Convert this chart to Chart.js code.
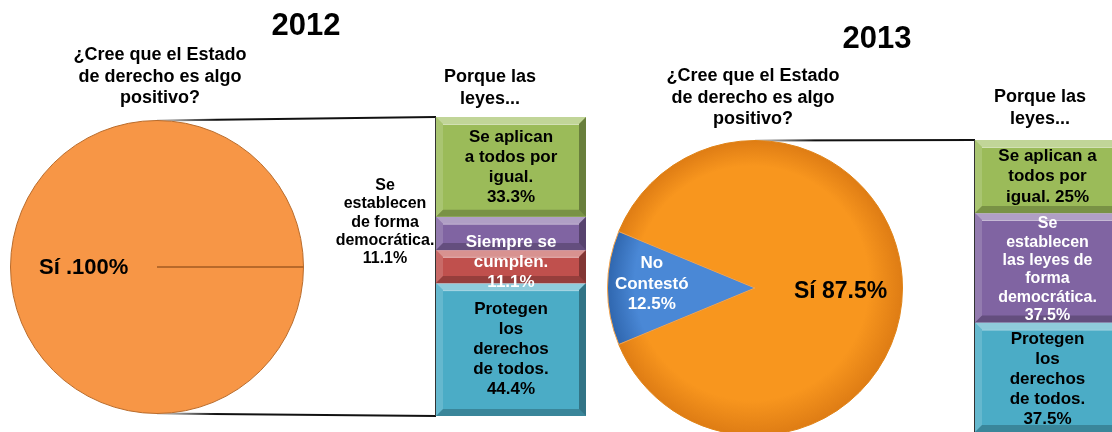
<!DOCTYPE html>
<html><head><meta charset="utf-8">
<script src="https://cdn.jsdelivr.net/npm/chart.js@4/dist/chart.umd.min.js"></script>
<style>
html,body{margin:0;padding:0;background:#fff;}
#wrap{position:relative;width:1112px;height:432px;overflow:hidden;background:#fff;font-family:"Liberation Sans",Arial,sans-serif;}
canvas{position:absolute;}
.t{position:absolute;text-align:center;font-weight:bold;color:#000;white-space:nowrap;}
.yr{font-size:31px;line-height:34px;}
.q{font-size:18px;line-height:21.5px;}
</style></head>
<body>
<div id="wrap">
  <canvas id="overlay" width="1112" height="432" style="left:0;top:0;"></canvas>
  <canvas id="pie12" width="294" height="294" style="left:10px;top:120px;"></canvas>
  <canvas id="bar12" width="266" height="299" style="left:320px;top:117px;"></canvas>
  <canvas id="pie13" width="296" height="296" style="left:607px;top:140px;"></canvas>
  <canvas id="bar13" width="145" height="292" style="left:975px;top:140px;"></canvas>

  <div class="t yr" style="left:226px;top:8px;width:160px;">2012</div>
  <div class="t q" style="left:50px;top:44px;width:220px;">¿Cree que el Estado<br>de derecho es algo<br>positivo?</div>
  <div class="t q" style="left:410px;top:66px;width:160px;">Porque las<br>leyes...</div>

  <div class="t yr" style="left:797px;top:21px;width:160px;">2013</div>
  <div class="t q" style="left:643px;top:65px;width:220px;">¿Cree que el Estado<br>de derecho es algo<br>positivo?</div>
  <div class="t q" style="left:960px;top:86px;width:160px;">Porque las<br>leyes...</div>
</div>
<script>
// ---------- DATA ----------
const pie2012Labels = ['Sí'];
const pie2012Values = [100];
const bar2012Categories = ['Se aplican a todos por igual.', 'Se establecen de forma democrática.', 'Siempre se cumplen.', 'Protegen los derechos de todos.'];
const bar2012Values = [33.3, 11.1, 11.1, 44.4];

const pie2013Labels = ['Sí', 'No Contestó'];
const pie2013Values = [87.5, 12.5];
const bar2013Categories = ['Se aplican a todos por igual.', 'Se establecen las leyes de forma democrática.', 'Protegen los derechos de todos.'];
const bar2013Values = [25, 37.5, 37.5];

// ---------- LABEL TEMPLATES (line breaks as in the slide) ----------
const pie2012LabelLines = [['Sí .{v}%']];
const bar2012LabelLines = [
  ['Se aplican', 'a todos por', 'igual.', '{v}%'],
  ['Se', 'establecen', 'de forma', 'democrática.', '{v}%'],
  ['Siempre se', 'cumplen.', '{v}%'],
  ['Protegen', 'los', 'derechos', 'de todos.', '{v}%']
];
const pie2013LabelLines = [['Sí {v}%'], ['No', 'Contestó', '{v}%']];
const bar2013LabelLines = [
  ['Se aplican a', 'todos por', 'igual. {v}%'],
  ['Se', 'establecen', 'las leyes de', 'forma', 'democrática.', '{v}%'],
  ['Protegen', 'los', 'derechos', 'de todos.', '{v}%']
];

// ---------- STYLE ----------
const FONT = '"Liberation Sans", Arial, sans-serif';
const C_GREEN = '#9bbb59', C_PURPLE = '#8064a2', C_RED = '#c0504d', C_CYAN = '#4bacc6';

function fill(tpl, v){ return tpl.map(s => s.replace('{v}', String(v))); }

function drawLines(ctx, lines, cx, cy, size, lh, color){
  ctx.save();
  ctx.font = 'bold ' + size + 'px ' + FONT;
  ctx.fillStyle = color;
  ctx.textAlign = 'center';
  ctx.textBaseline = 'middle';
  const y0 = cy - (lines.length - 1) * lh / 2;
  lines.forEach((l, i) => ctx.fillText(l, cx, y0 + i * lh));
  ctx.restore();
}

// pie labels + optional radial line for single full slice
const pieDecor = {
  id: 'pieDecor',
  afterDatasetsDraw(chart, args, o){
    const ctx = chart.ctx;
    const meta = chart.getDatasetMeta(0);
    const vals = chart.data.datasets[0].data;
    meta.data.forEach((el, i) => {
      const p = el.getProps(['x','y','startAngle','endAngle','outerRadius'], true);
      if (o.radialLine && i === 0){
        ctx.save();
        ctx.strokeStyle = o.radialLine; ctx.lineWidth = 2;
        ctx.beginPath(); ctx.moveTo(p.x, p.y);
        ctx.lineTo(p.x + p.outerRadius * Math.cos(p.startAngle), p.y + p.outerRadius * Math.sin(p.startAngle));
        ctx.stroke(); ctx.restore();
      }
      const mid = (p.startAngle + p.endAngle) / 2;
      const rr = p.outerRadius * o.labelRadius[i];
      const lx = p.x + rr * Math.cos(mid), ly = p.y + rr * Math.sin(mid) + (o.dy ? o.dy[i] : 0);
      drawLines(ctx, fill(o.lines[i], vals[i]), lx, ly, o.size[i], o.lh, o.colors[i]);
    });
  }
};

// bar bevel + labels
const barDecor = {
  id: 'barDecor',
  afterDatasetsDraw(chart, args, o){
    const ctx = chart.ctx;
    chart.data.datasets.forEach((ds, i) => {
      const el = chart.getDatasetMeta(i).data[0];
      const p = el.getProps(['x','y','base','width'], true);
      const L = p.x - p.width/2, R = p.x + p.width/2;
      const T = Math.min(p.y, p.base), B = Math.max(p.y, p.base);
      const b = Math.min(7, (B - T) / 3);
      ctx.save();
      ctx.fillStyle = 'rgba(255,255,255,0.38)';
      ctx.beginPath(); ctx.moveTo(L, T); ctx.lineTo(R, T); ctx.lineTo(R - b, T + b); ctx.lineTo(L + b, T + b); ctx.closePath(); ctx.fill();
      ctx.fillStyle = 'rgba(255,255,255,0.15)';
      ctx.beginPath(); ctx.moveTo(L, T); ctx.lineTo(L + b, T + b); ctx.lineTo(L + b, B - b); ctx.lineTo(L, B); ctx.closePath(); ctx.fill();
      ctx.fillStyle = 'rgba(0,0,0,0.32)';
      ctx.beginPath(); ctx.moveTo(R, T); ctx.lineTo(R, B); ctx.lineTo(R - b, B - b); ctx.lineTo(R - b, T + b); ctx.closePath(); ctx.fill();
      ctx.fillStyle = 'rgba(0,0,0,0.22)';
      ctx.beginPath(); ctx.moveTo(L, B); ctx.lineTo(R, B); ctx.lineTo(R - b, B - b); ctx.lineTo(L + b, B - b); ctx.closePath(); ctx.fill();
      ctx.strokeStyle = 'rgba(255,255,255,0.55)'; ctx.lineWidth = 1;
      ctx.beginPath(); ctx.moveTo(L + b, T + b + 0.5); ctx.lineTo(R - b, T + b + 0.5); ctx.stroke();
      ctx.restore();
    });
    chart.data.datasets.forEach((ds, i) => {
      const el = chart.getDatasetMeta(i).data[0];
      const p = el.getProps(['x','y','base','width'], true);
      const cy = (p.y + p.base) / 2 + (o.dy ? o.dy[i] : 0);
      let cx = p.x + (o.dx ? o.dx[i] : 0);
      if (o.outside && o.outside[i]) cx = p.x - p.width/2 - o.outside[i];
      drawLines(ctx, fill(o.lines[i], ds.data[0]), cx, cy, o.size[i], o.lh[i], o.colors[i]);
    });
  }
};

const commonOpts = {
  animation: false, responsive: false, events: [],
  plugins: { legend: { display: false }, tooltip: { enabled: false } }
};

// ---------- 2012 PIE ----------
const pie12 = new Chart(document.getElementById('pie12'), {
  type: 'pie',
  data: { labels: pie2012Labels, datasets: [{ data: pie2012Values, backgroundColor: ['#f79646'], borderColor: '#b96c2c', borderWidth: 1 }] },
  options: Object.assign({}, commonOpts, {
    rotation: 90, layout: { padding: 0 },
    plugins: Object.assign({}, commonOpts.plugins, {
      pieDecor: { radialLine: '#b8692a', labelRadius: [0.5], lines: pie2012LabelLines, size: [22], lh: 22, colors: ['#000'], dy: [1] }
    })
  }),
  plugins: [pieDecor]
});

// ---------- BAR helper ----------
function barChart(id, cats, vals, colors, decor, padLeft){
  return new Chart(document.getElementById(id), {
    type: 'bar',
    data: {
      labels: [''],
      datasets: cats.map((c, i) => ({ label: c, data: [vals[i]], backgroundColor: colors[i], borderWidth: 0, barPercentage: 1, categoryPercentage: 1 }))
    },
    options: Object.assign({}, commonOpts, {
      layout: { padding: { left: padLeft, right: 0, top: 0, bottom: 0 } },
      scales: {
        x: { display: false, stacked: true },
        y: { display: false, stacked: true, reverse: true, min: 0, max: vals.reduce((a, b) => a + b, 0) }
      },
      plugins: Object.assign({}, commonOpts.plugins, { barDecor: decor })
    }),
    plugins: [barDecor]
  });
}

// ---------- 2012 BAR ----------
const bar12 = barChart('bar12', bar2012Categories, bar2012Values, [C_GREEN, C_PURPLE, C_RED, C_CYAN], {
  lines: bar2012LabelLines, size: [17, 16, 17, 17], lh: [20, 18.3, 20, 20],
  colors: ['#000', '#000', '#fff', '#000'],
  outside: [0, 51, 0, 0], dy: [0, -11, -4, 0], dx: [0, 0, 0, 0]
}, 116);

// ---------- 2013 PIE ----------
function radial(chart, inner, outer){
  const a = chart.chartArea;
  if (!a) return outer;
  const cx = (a.left + a.right) / 2, cy = (a.top + a.bottom) / 2, r = Math.min(a.width, a.height) / 2;
  const g = chart.ctx.createRadialGradient(cx - r * 0.1, cy - r * 0.15, r * 0.05, cx, cy, r);
  g.addColorStop(0, inner); g.addColorStop(0.78, inner); g.addColorStop(1, outer);
  return g;
}
const pie13 = new Chart(document.getElementById('pie13'), {
  type: 'pie',
  data: { labels: pie2013Labels, datasets: [{
    data: pie2013Values,
    backgroundColor: (c) => c.dataIndex === 0 ? radial(c.chart, '#f8961e', '#de7c14') : radial(c.chart, '#4a88d6', '#2f66ae'),
    borderColor: ['#e08418', '#f6a44a'], borderWidth: 1
  }] },
  options: Object.assign({}, commonOpts, {
    rotation: 292.5, layout: { padding: 0 },
    plugins: Object.assign({}, commonOpts.plugins, {
      pieDecor: { labelRadius: [0.58, 0.7], lines: pie2013LabelLines, size: [23, 17], lh: 20.5, colors: ['#000', '#fff'], dy: [4, -4] }
    })
  }),
  plugins: [pieDecor]
});

// ---------- 2013 BAR ----------
const bar13 = barChart('bar13', bar2013Categories, bar2013Values, [C_GREEN, C_PURPLE, C_CYAN], {
  lines: bar2013LabelLines, size: [17, 16, 17], lh: [20.5, 18.3, 20],
  colors: ['#000', '#fff', '#000'],
  dy: [0, 2, 2], dx: [0, 0, 0]
}, 0);

// ---------- CONNECTOR LINES (from chart geometry) ----------
function connectors(pie, bar, both){
  const ov = document.getElementById('overlay').getContext('2d');
  const pc = pie.canvas, bc = bar.canvas;
  const pe = pie.getDatasetMeta(0).data[0].getProps(['x','y','outerRadius'], true);
  const be = bar.getDatasetMeta(0).data[0].getProps(['x','width'], true);
  const cx = pc.offsetLeft + pe.x, top = pc.offsetTop + pe.y - pe.outerRadius, bot = pc.offsetTop + pe.y + pe.outerRadius;
  const bx = bc.offsetLeft + be.x - be.width / 2;
  const bt = bc.offsetTop + bar.chartArea.top, bb = bc.offsetTop + bar.chartArea.bottom;
  const g = ov.createLinearGradient(cx, 0, cx + 60, 0);
  g.addColorStop(0, 'rgba(40,40,40,0.2)'); g.addColorStop(1, '#111');
  ov.strokeStyle = g; ov.lineWidth = 2;
  ov.beginPath(); ov.moveTo(cx, top); ov.lineTo(bx, bt); ov.stroke();
  if (both){ ov.beginPath(); ov.moveTo(cx, bot); ov.lineTo(bx, bb); ov.stroke(); }
  ov.strokeStyle = '#333'; ov.lineWidth = 2;
  ov.beginPath(); ov.moveTo(bx, bt); ov.lineTo(bx, bb); ov.stroke();
}
connectors(pie12, bar12, true);
connectors(pie13, bar13, false);
</script>
</body></html>
